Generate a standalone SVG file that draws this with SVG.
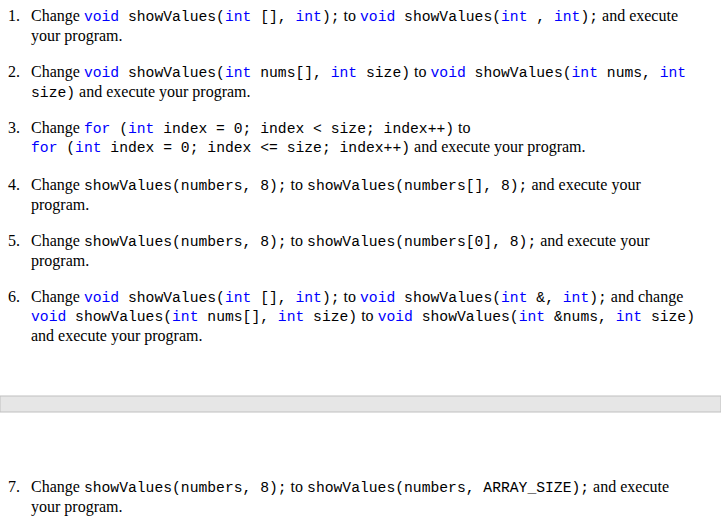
<svg xmlns="http://www.w3.org/2000/svg" width="721" height="524" viewBox="0 0 721 524">
<style>
text{font-family:"Liberation Serif","Times New Roman",serif;font-size:16px;fill:#000;white-space:pre}
.m{font-family:"Liberation Mono","Courier New",monospace;font-size:14.7px}
.b{fill:#0000ff}
</style>
<rect width="721" height="524" fill="#fff"/>
<rect x="0" y="396" width="721" height="16" fill="#e6e6e6" stroke="#c0c0c0" stroke-width="1"/>
<g id="item1">
<text x="8" y="21">1.</text>
<text x="31" y="21" xml:space="preserve">Change <tspan class="m b">void</tspan><tspan class="m"> showValues(</tspan><tspan class="m b">int</tspan><tspan class="m"> [], </tspan><tspan class="m b">int</tspan><tspan class="m">);</tspan> to <tspan class="m b">void</tspan><tspan class="m"> showValues(</tspan><tspan class="m b">int</tspan><tspan class="m"> , </tspan><tspan class="m b">int</tspan><tspan class="m">);</tspan> and execute</text>
<text x="31" y="41">your program.</text>
</g>
<g id="item2">
<text x="8" y="77">2.</text>
<text x="31" y="77" xml:space="preserve">Change <tspan class="m b">void</tspan><tspan class="m"> showValues(</tspan><tspan class="m b">int</tspan><tspan class="m"> nums[], </tspan><tspan class="m b">int</tspan><tspan class="m"> size)</tspan> to <tspan class="m b">void</tspan><tspan class="m"> showValues(</tspan><tspan class="m b">int</tspan><tspan class="m"> nums, </tspan><tspan class="m b">int</tspan></text>
<text x="31" y="97" xml:space="preserve"><tspan class="m">size)</tspan> and execute your program.</text>
</g>
<g id="item3">
<text x="8" y="133">3.</text>
<text x="31" y="133" xml:space="preserve">Change <tspan class="m b">for</tspan><tspan class="m"> (</tspan><tspan class="m b">int</tspan><tspan class="m"> index = 0; index &lt; size; index++)</tspan> to</text>
<text x="31" y="152" xml:space="preserve"><tspan class="m b">for</tspan><tspan class="m"> (</tspan><tspan class="m b">int</tspan><tspan class="m"> index = 0; index &lt;= size; index++)</tspan> and execute your program.</text>
</g>
<g id="item4">
<text x="8" y="190">4.</text>
<text x="31" y="190" xml:space="preserve">Change <tspan class="m">showValues(numbers, 8);</tspan> to <tspan class="m">showValues(numbers[], 8);</tspan> and execute your</text>
<text x="31" y="210">program.</text>
</g>
<g id="item5">
<text x="8" y="246">5.</text>
<text x="31" y="246" xml:space="preserve">Change <tspan class="m">showValues(numbers, 8);</tspan> to <tspan class="m">showValues(numbers[0], 8);</tspan> and execute your</text>
<text x="31" y="266">program.</text>
</g>
<g id="item6">
<text x="8" y="302">6.</text>
<text x="31" y="302" xml:space="preserve">Change <tspan class="m b">void</tspan><tspan class="m"> showValues(</tspan><tspan class="m b">int</tspan><tspan class="m"> [], </tspan><tspan class="m b">int</tspan><tspan class="m">);</tspan> to <tspan class="m b">void</tspan><tspan class="m"> showValues(</tspan><tspan class="m b">int</tspan><tspan class="m"> &amp;, </tspan><tspan class="m b">int</tspan><tspan class="m">);</tspan> and change</text>
<text x="31" y="321" xml:space="preserve"><tspan class="m b">void</tspan><tspan class="m"> showValues(</tspan><tspan class="m b">int</tspan><tspan class="m"> nums[], </tspan><tspan class="m b">int</tspan><tspan class="m"> size)</tspan> to <tspan class="m b">void</tspan><tspan class="m"> showValues(</tspan><tspan class="m b">int</tspan><tspan class="m"> &amp;nums, </tspan><tspan class="m b">int</tspan><tspan class="m"> size)</tspan></text>
<text x="31" y="341">and execute your program.</text>
</g>
<g id="item7">
<text x="8" y="492">7.</text>
<text x="31" y="492" xml:space="preserve">Change <tspan class="m">showValues(numbers, 8);</tspan> to <tspan class="m">showValues(numbers, ARRAY_SIZE);</tspan> and execute</text>
<text x="31" y="512">your program.</text>
</g>
<g id="connectors"/>
</svg>
